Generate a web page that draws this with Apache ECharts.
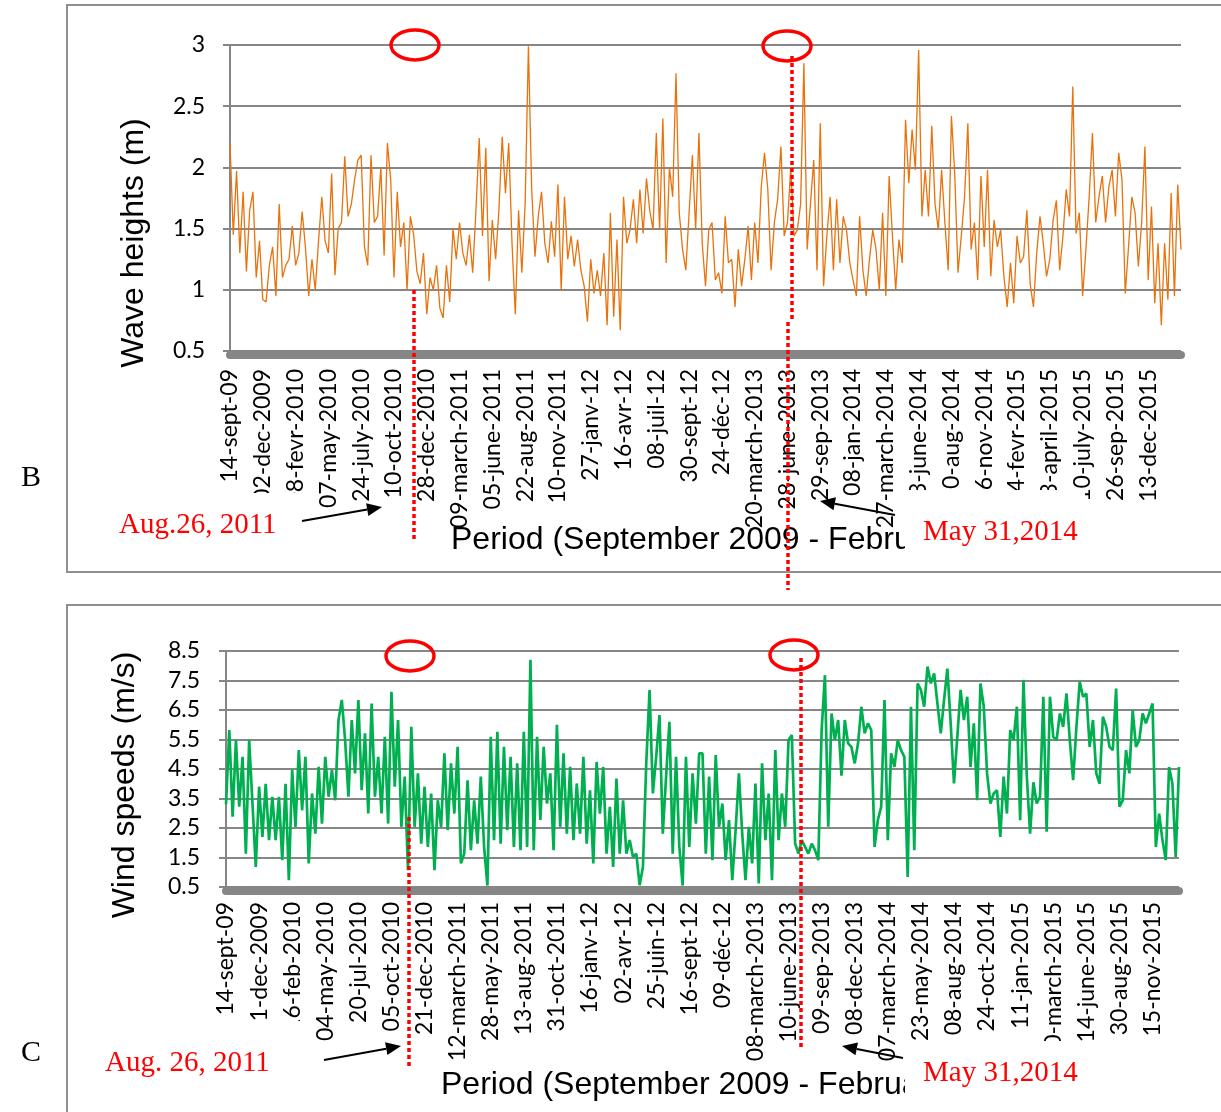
<!DOCTYPE html>
<html>
<head>
<meta charset="utf-8">
<title>Wave heights and wind speeds</title>
<script src="https://cdn.jsdelivr.net/npm/echarts@6/dist/echarts.min.js"></script>
<style>
html,body{margin:0;padding:0;background:#fff;}
#chart{width:1221px;height:1112px;}
</style>
</head>
<body>
<div id="chart"></div>
<script>
// ---------- data ----------
const tickLabelsB = ['14-sept-09','02-dec-2009','08-fevr-2010','07-may-2010','24-july-2010','10-oct-2010','28-dec-2010','09-march-2011','05-june-2011','22-aug-2011','10-nov-2011','27-janv-12','16-avr-12','08-juil-12','30-sept-12','24-déc-12','20-march-2013','28-june-2013','29-sep-2013','08-jan-2014','27-march-2014','13-june-2014','30-aug-2014','16-nov-2014','04-fevr-2015','23-april-2015','10-july-2015','26-sep-2015','13-dec-2015'];
const tickLabelsC = ['14-sept-09','01-dec-2009','16-feb-2010','04-may-2010','20-jul-2010','05-oct-2010','21-dec-2010','12-march-2011','28-may-2011','13-aug-2011','31-oct-2011','16-janv-12','02-avr-12','25-juin-12','16-sept-12','09-déc-12','08-march-2013','10-june-2013','09-sep-2013','08-dec-2013','07-march-2014','23-may-2014','08-aug-2014','24-oct-2014','11-jan-2015','30-march-2015','14-june-2015','30-aug-2015','15-nov-2015'];

// wave heights (m), one value per ~8 days
const waveHeights = [
2.2,1.45,1.97,1.3,1.8,1.15,1.65,1.8,1.1,1.4,
0.92,0.9,1.2,1.35,0.95,1.7,1.1,1.2,1.25,1.52,
1.2,1.3,1.64,1.35,0.95,1.25,1.0,1.4,1.76,1.4,
1.3,1.95,1.12,1.5,1.55,2.09,1.6,1.7,1.9,2.06,
2.1,1.35,1.2,2.1,1.55,1.6,2.0,1.28,2.2,1.9,
1.1,1.8,1.35,1.55,1.0,1.6,1.45,1.15,1.05,1.3,
0.8,1.1,1.0,1.2,0.85,0.77,1.2,0.9,1.5,1.25,
1.55,1.3,1.2,1.45,
1.14,1.65,2.24,1.44,2.16,1.07,
1.57,1.25,1.65,2.25,1.79,2.2,1.38,0.8,1.65,1.14,
1.7,2.99,1.82,1.27,1.6,1.8,1.38,1.22,1.56,1.27,
1.86,1.0,1.76,1.25,1.44,1.19,1.41,1.16,1.03,0.74,
1.25,0.97,1.16,0.95,1.3,0.71,1.63,0.78,1.41,0.67,
1.76,1.38,1.49,1.74,1.38,1.82,1.46,1.91,1.65,1.49,
2.28,1.49,2.4,1.22,2.0,1.76,2.77,1.63,1.33,1.16,
1.63,2.1,1.49,2.28,1.38,1.03,1.49,
1.55,1.08,1.14,0.97,1.6,1.22,1.25,0.86,1.33,1.03,
1.25,1.52,1.08,1.55,1.22,1.84,2.12,1.82,1.16,1.55,
1.74,2.17,1.44,1.55,2.0,1.44,1.49,1.7,2.85,1.33,
1.7,2.06,1.16,2.36,1.03,1.44,1.76,1.16,1.74,1.22,
1.6,1.49,1.22,1.08,0.95,1.6,1.16,0.95,1.25,1.49,
1.33,1.0,1.63,0.95,1.93,1.44,1.0,1.41,1.22,2.39,
1.87,2.31,1.98,2.96,1.6,1.98,1.6,2.34,1.7,1.49,
1.98,1.55,1.16,2.42,
1.95,1.14,1.44,1.76,2.36,1.33,1.55,1.08,1.93,1.35,
1.98,1.11,1.57,1.35,1.49,1.11,0.86,1.22,0.89,1.44,
1.22,1.27,1.65,1.05,0.86,1.3,1.6,1.38,1.11,1.25,
1.57,1.73,1.16,1.44,1.82,1.6,2.66,1.46,1.63,0.95,
1.33,1.76,2.28,1.55,1.76,1.93,1.55,1.84,1.98,1.6,
2.12,1.9,0.97,1.35,1.76,1.63,1.19,1.55,2.17,1.08,
1.68,0.89,1.38,0.71,1.38,0.92,1.79,0.95,1.86,1.33
];

// wind speeds (m/s), one value per ~8 days
const windSpeeds = [
3.3,5.82,2.88,5.48,3.22,4.91,1.63,5.48,3.33,1.18,
3.9,2.2,4.0,2.09,3.56,2.09,3.56,1.41,4.0,0.73,
4.47,2.54,5.14,3.1,4.91,1.3,3.67,2.31,4.57,2.65,
4.91,3.56,4.47,3.44,6.16,6.84,5.48,3.56,6.16,4.35,
6.84,3.78,5.71,2.99,6.72,3.56,4.91,2.99,5.59,2.65,
7.12,3.9,6.16,2.54,4.24,1.07,5.93,2.54,4.35,1.97,
3.9,1.86,3.67,1.07,3.44,2.54,5.03,2.43,4.69,2.99,5.25,1.3,
1.63,4.12,1.75,3.44,1.97,4.24,1.86,0.55,
5.59,2.09,5.76,1.97,5.25,2.43,4.91,1.86,4.69,1.75,
5.76,1.86,8.2,1.75,5.59,2.77,5.25,3.33,4.35,1.75,
6.0,2.54,5.03,2.31,4.57,2.09,4.01,2.31,4.91,1.97,
3.78,1.3,4.74,2.99,4.57,1.63,3.22,1.18,4.18,1.63,
3.44,1.63,2.09,1.52,1.63,0.56,1.18,4.69,7.18,3.67,
4.91,6.33,2.31,4.24,6.1,1.63,4.91,1.86,0.55,4.91,
1.86,4.35,2.65,5.03,
5.03,1.63,4.24,1.41,4.97,2.54,3.33,1.41,2.77,0.73,
2.43,4.35,2.31,0.73,2.54,1.3,4.01,0.62,4.69,2.09,
3.67,0.73,5.14,2.09,3.67,2.54,5.48,5.65,1.97,1.63,
2.09,1.86,1.63,1.97,1.75,1.41,5.82,7.68,2.54,6.38,
5.48,6.16,4.27,6.16,5.37,5.25,4.69,5.37,6.61,5.71,
6.05,5.82,1.86,2.77,3.22,6.84,2.09,5.03,4.57,5.48,
5.14,4.91,0.84,6.61,1.75,7.4,7.18,6.61,7.97,7.4,
7.74,6.72,5.71,6.84,
7.9,6.05,4.01,5.59,7.18,6.16,6.95,4.57,6.05,3.44,
7.4,6.61,4.35,3.33,3.67,3.78,2.2,4.24,2.99,5.82,
5.48,6.61,2.76,7.52,4.27,2.31,4.05,3.33,3.56,6.95,
2.37,6.95,5.59,5.48,6.38,5.93,7.06,5.48,4.12,5.93,
7.46,6.95,7.06,5.25,6.16,4.35,4.0,6.27,5.93,5.25,
5.14,7.23,3.22,3.44,5.14,4.35,6.5,5.25,5.48,6.38,
6.05,6.38,6.72,1.86,2.99,2.09,1.41,4.57,4.01,1.52,4.57
];

// sampling dates used as category names (every 8 days from 14 Sept 2009)
function makeDates(n) {
  const out = [];
  const t0 = Date.UTC(2009, 8, 14);
  for (let i = 0; i < n; i++) {
    const d = new Date(t0 + i * 8 * 86400000);
    out.push(d.toISOString().slice(0, 10));
  }
  return out;
}
const categoriesB = makeDates(waveHeights.length);
const categoriesC = makeDates(windSpeeds.length);

// ---------- chart ----------
const GRAY = '#868686';
const RED = '#ff0000';
const LABEL_FONT = 'Lato';

function xAx(gridIndex, cats, ticks, margin) {
  return {
    type: 'category', gridIndex: gridIndex, data: cats, boundaryGap: false,
    offset: 4,
    axisLine: { show: true, onZero: false, lineStyle: { color: GRAY, width: 8 } },
    axisTick: { show: false },
    splitLine: { show: false },
    axisLabel: {
      interval: 9, rotate: 90, margin: margin,
      fontFamily: LABEL_FONT, fontSize: 23, color: '#000',
      formatter: function (v, i) { return ticks[i / 10] || ''; }
    }
  };
}
function yAx(gridIndex, min, max, interval, margin) {
  return {
    type: 'value', gridIndex: gridIndex, min: min, max: max, interval: interval,
    axisLine: { show: true, lineStyle: { color: GRAY, width: 2 } },
    axisTick: { show: true, length: 7, lineStyle: { color: GRAY, width: 2 } },
    splitLine: { show: true, lineStyle: { color: GRAY, width: 2 } },
    axisLabel: { margin: margin, fontFamily: LABEL_FONT, fontSize: 23, color: '#000' }
  };
}

function txt(text, x, y, font, fill, align, rot, z) {
  return {
    type: 'text', x: x, y: y, rotation: rot || 0, z: z || 60,
    style: { text: text, font: font, fill: fill, align: align, verticalAlign: 'middle',
             textAlign: align, textVerticalAlign: 'middle' }
  };
}
function rect(x, y, w, h, fill, stroke, z) {
  return { type: 'rect', z: z, shape: { x: x, y: y, width: w, height: h },
           style: { fill: fill, stroke: stroke, lineWidth: 2 } };
}
function dotted(x1, y1, x2, y2) {
  return { type: 'line', z: 90, shape: { x1: x1, y1: y1, x2: x2, y2: y2 },
           style: { stroke: RED, lineWidth: 3.5, lineDash: [4, 3] } };
}
function ell(cx, cy) {
  return { type: 'ellipse', z: 90, shape: { cx: cx, cy: cy, rx: 24, ry: 15 },
           style: { fill: null, stroke: RED, lineWidth: 3.5 } };
}
function arrow(x1, y1, x2, y2) {
  const a = Math.atan2(y2 - y1, x2 - x1), L = 15, W = 6.5;
  const bx = x2 - L * Math.cos(a), by = y2 - L * Math.sin(a);
  const px = -Math.sin(a) * W, py = Math.cos(a) * W;
  return [
    { type: 'line', z: 95, shape: { x1: x1, y1: y1, x2: bx, y2: by }, style: { stroke: '#000', lineWidth: 2 } },
    { type: 'polygon', z: 95, shape: { points: [[x2, y2], [bx + px, by + py], [bx - px, by - py]] }, style: { fill: '#000' } }
  ];
}

const titleFont = '32px "Liberation Sans"';
const serifRed = '29px "Liberation Serif"';

const graphics = [
  rect(67, 5, 1160, 567, null, '#8f8f8f', 5),
  rect(67, 605, 1160, 520, null, '#8f8f8f', 5),
  txt('Wave heights (m)', 134, 243, titleFont, '#000', 'center', Math.PI / 2, 40),
  txt('Wind speeds (m/s)', 125, 785, titleFont, '#000', 'center', Math.PI / 2, 40),
  txt('Period (September 2009 - February 2016)', 451, 540, titleFont, '#000', 'left', 0, 40),
  txt('Period (September 2009 - February 2016)', 441, 1085, titleFont, '#000', 'left', 0, 40),
  txt('B', 21, 478, '30px "Liberation Serif"', '#000', 'left', 0, 60),
  txt('C', 21, 1053, '30px "Liberation Serif"', '#000', 'left', 0, 60),
  rect(105, 493, 205, 67, '#fff', null, 50),
  rect(905, 490, 180, 72, '#fff', null, 50),
  rect(95, 1021, 210, 79, '#fff', null, 50),
  rect(905, 1041, 180, 62, '#fff', null, 50),
  txt('Aug.26, 2011', 119, 525, serifRed, RED, 'left', 0, 60),
  txt('May 31,2014', 923, 532, serifRed, RED, 'left', 0, 60),
  txt('Aug. 26, 2011', 105, 1063, serifRed, RED, 'left', 0, 60),
  txt('May 31,2014', 923, 1073, serifRed, RED, 'left', 0, 60),
  ell(415, 45), ell(787, 46), ell(410, 656), ell(794, 655),
  dotted(414, 290, 414, 540),
  dotted(792, 56, 792, 322),
  dotted(788, 322, 788, 590),
  dotted(409, 817, 409, 1068),
  dotted(801, 658, 801, 1050)
].concat(
  arrow(302, 521, 382, 507),
  arrow(895, 515, 820, 501),
  arrow(324, 1060, 401, 1046),
  arrow(903, 1058, 842, 1046)
);

const option = {
  animation: false,
  backgroundColor: '#fff',
  grid: [
    { left: 230, top: 45, width: 951, height: 306 },
    { left: 226, top: 651, width: 953, height: 236 }
  ],
  xAxis: [xAx(0, categoriesB, tickLabelsB, 14), xAx(1, categoriesC, tickLabelsC, 11)],
  yAxis: [yAx(0, 0.5, 3, 0.5, 25), yAx(1, 0.5, 8.5, 1, 26)],
  series: [
    { name: 'Wave heights', type: 'line', xAxisIndex: 0, yAxisIndex: 0, data: waveHeights,
      showSymbol: false, lineStyle: { color: '#E8720C', width: 1.3 }, itemStyle: { color: '#E8720C' } },
    { name: 'Wind speeds', type: 'line', xAxisIndex: 1, yAxisIndex: 1, data: windSpeeds,
      showSymbol: false, lineStyle: { color: '#00B050', width: 2.7 }, itemStyle: { color: '#00B050' } }
  ],
  graphic: graphics
};

const chart = echarts.init(document.getElementById('chart'), null, { renderer: 'canvas' });
chart.setOption(option);
</script>
</body>
</html>
